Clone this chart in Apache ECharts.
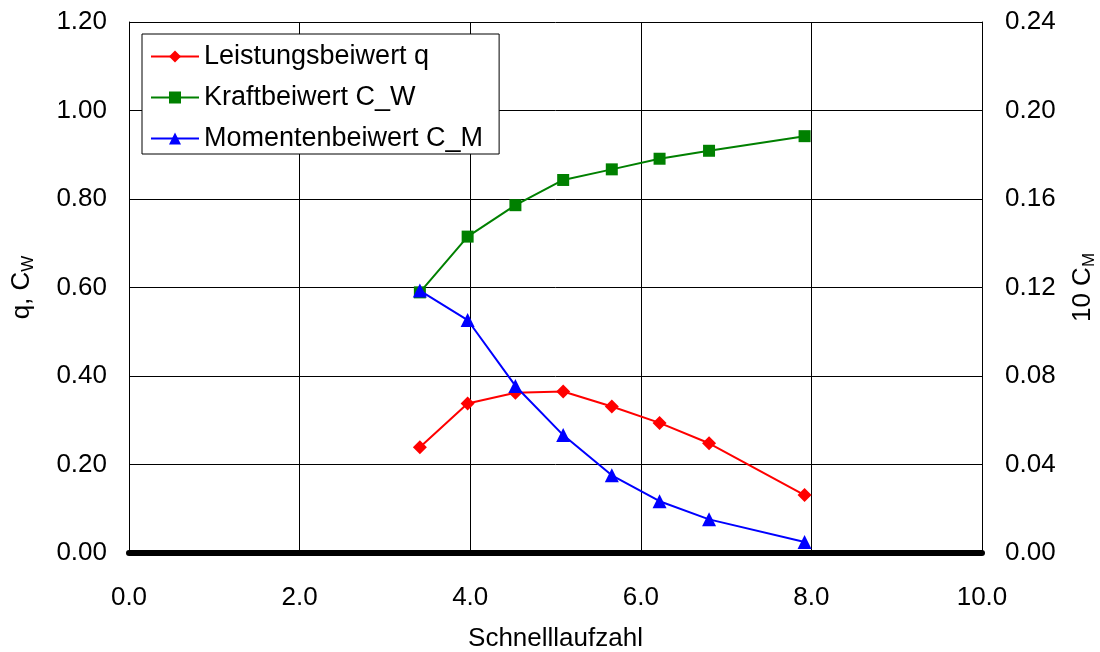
<!DOCTYPE html>
<html>
<head>
<meta charset="utf-8">
<script src="https://cdn.jsdelivr.net/npm/echarts@6/dist/echarts.min.js"></script>
<style>
  html, body { margin: 0; padding: 0; background: #fff; }
  #chart { width: 1100px; height: 652px; }
</style>
</head>
<body>
<div id="chart"></div>
<script>
// Schnelllaufzahl (tip speed ratio) of each measured operating point
const speedRatio = [3.41, 3.97, 4.53, 5.09, 5.66, 6.22, 6.80, 7.92];
// Leistungsbeiwert q (left axis)
const powerCoef = [0.239, 0.338, 0.362, 0.365, 0.331, 0.294, 0.248, 0.131];
// Kraftbeiwert C_W (left axis)
const forceCoef = [0.589, 0.715, 0.786, 0.843, 0.867, 0.891, 0.909, 0.942];
// Momentenbeiwert C_M, plotted as 10 C_M (right axis)
const momentCoef = [0.1186, 0.1053, 0.0755, 0.0533, 0.0351, 0.0234, 0.0152, 0.005];

const seriesNames = ['Leistungsbeiwert q', 'Kraftbeiwert C_W', 'Momentenbeiwert C_M'];

const FONT = '"Liberation Sans", Arial, sans-serif';
const TICK_SIZE = 26;
const TITLE_SIZE = 26;

function pairs(xs, ys) {
  return xs.map((x, i) => [x, ys[i]]);
}

const chart = echarts.init(document.getElementById('chart'), null, { renderer: 'canvas' });

const labelStyle = { color: '#000', fontSize: TICK_SIZE, fontFamily: FONT };
const titleStyle = { color: '#000', fontSize: TITLE_SIZE, fontFamily: FONT };
const subRich = {
  a: { fontSize: TITLE_SIZE, fontFamily: FONT, color: '#000', lineHeight: 30 },
  s: { fontSize: 17, fontFamily: FONT, color: '#000', lineHeight: 30, padding: [12, 0, 0, 0] }
};

chart.setOption({
  animation: false,
  backgroundColor: '#fff',
  grid: { left: 129, right: 118, top: 22, bottom: 99, outerBoundsMode: 'none', containLabel: false },
  legend: {
    orient: 'vertical',
    left: 142,
    top: 34,
    padding: [8, 16, 1, 8],
    itemWidth: 48,
    itemHeight: 15,
    itemGap: 12,
    backgroundColor: '#fff',
    borderColor: '#000',
    borderWidth: 1,
    borderRadius: 0,
    textStyle: { color: '#000', fontSize: 27, fontFamily: FONT, lineHeight: 29 },
    data: seriesNames
  },
  xAxis: {
    type: 'value',
    min: 0,
    max: 10,
    interval: 2,
    name: 'Schnelllaufzahl',
    nameLocation: 'middle',
    nameGap: 73,
    nameTextStyle: titleStyle,
    axisLine: { show: true, onZero: false, lineStyle: { color: '#000', width: 6, cap: 'round' } },
    axisTick: { show: false },
    axisLabel: Object.assign({ margin: 32, formatter: v => v.toFixed(1) }, labelStyle),
    splitLine: { show: true, lineStyle: { color: '#000', width: 1 } }
  },
  yAxis: [
    {
      type: 'value',
      min: 0,
      max: 1.2,
      interval: 0.2,
      name: '{a|q, C}{s|W}',
      nameLocation: 'middle',
      nameRotate: 90,
      nameGap: 92,
      nameTextStyle: { rich: subRich },
      axisLine: { show: true, lineStyle: { color: '#000', width: 1 } },
      axisTick: { show: false },
      axisLabel: Object.assign({ margin: 22, formatter: v => v.toFixed(2) }, labelStyle),
      splitLine: { show: true, lineStyle: { color: '#000', width: 1 } }
    },
    {
      type: 'value',
      min: 0,
      max: 0.24,
      interval: 0.04,
      position: 'right',
      name: '{a|10 C}{s|M}',
      nameLocation: 'middle',
      nameRotate: 90,
      nameGap: 86,
      nameTextStyle: { rich: subRich },
      axisLine: { show: true, lineStyle: { color: '#000', width: 1 } },
      axisTick: { show: false },
      axisLabel: Object.assign({ margin: 23, formatter: v => v.toFixed(2) }, labelStyle),
      splitLine: { show: false }
    }
  ],
  series: [
    {
      name: seriesNames[0],
      type: 'line',
      yAxisIndex: 0,
      data: pairs(speedRatio, powerCoef),
      symbol: 'diamond',
      symbolSize: 14,
      itemStyle: { color: '#ff0000' },
      lineStyle: { color: '#ff0000', width: 2 },
      z: 3
    },
    {
      name: seriesNames[1],
      type: 'line',
      yAxisIndex: 0,
      data: pairs(speedRatio, forceCoef),
      symbol: 'rect',
      symbolSize: 12,
      itemStyle: { color: '#008000' },
      lineStyle: { color: '#008000', width: 2 },
      z: 4
    },
    {
      name: seriesNames[2],
      type: 'line',
      yAxisIndex: 1,
      data: pairs(speedRatio, momentCoef),
      symbol: 'triangle',
      symbolSize: 14,
      itemStyle: { color: '#0000ff' },
      lineStyle: { color: '#0000ff', width: 2 },
      z: 5
    }
  ]
});
</script>
</body>
</html>
